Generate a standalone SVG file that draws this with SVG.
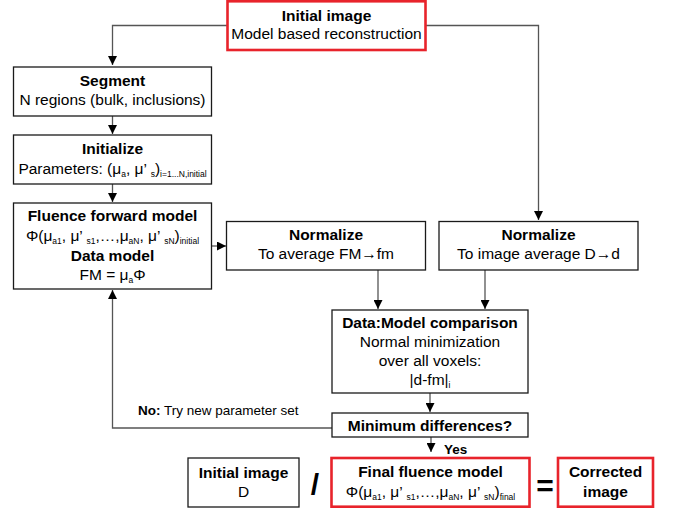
<svg xmlns="http://www.w3.org/2000/svg" width="673" height="508" viewBox="0 0 673 508">
<defs>
<marker id="ah" markerUnits="userSpaceOnUse" markerWidth="9" markerHeight="9" refX="9" refY="4.5" orient="auto"><path d="M0,0 L9,4.5 L0,9 z" fill="#000"/></marker>
<style>
.box{fill:#fff;stroke:#1a1a1a;stroke-width:1.3}
.red{fill:#fff;stroke:#e8232b;stroke-width:2.6}
.c{fill:none;stroke:#555;stroke-width:1.3}
text{font-family:"Liberation Sans",Arial,sans-serif;font-size:15.5px;fill:#000;text-anchor:middle}
.b{font-weight:bold;font-size:15.5px}
.s{font-size:8.5px}
</style>
</defs>
<rect width="673" height="508" fill="#fff"/>
<g id="connectors">
<path class="c" d="M227,25.5 H112.5 V65" marker-end="url(#ah)"/>
<path class="c" d="M425,25.5 H538.5 V220" marker-end="url(#ah)"/>
<path class="c" d="M112.5,116 V134" marker-end="url(#ah)"/>
<path class="c" d="M112.5,184 V202" marker-end="url(#ah)"/>
<path class="c" d="M212,246 H226" marker-end="url(#ah)"/>
<path class="c" d="M378,270 V309" marker-end="url(#ah)"/>
<path class="c" d="M485,270 V309" marker-end="url(#ah)"/>
<path class="c" d="M430,393 V412" marker-end="url(#ah)"/>
<path class="c" d="M431,437 V452" marker-end="url(#ah)"/>
<path class="c" d="M332,428 H112.5 V290" marker-end="url(#ah)"/>
<text x="444" y="454" class="b" style="font-size:13.5px;text-anchor:start">Yes</text>
<text x="138" y="415" style="font-size:13.5px;text-anchor:start"><tspan class="b" style="font-size:13.5px">No:</tspan> Try new parameter set</text>
</g>
<g id="initial">
<rect class="red" x="227.5" y="1.3" width="198" height="48.7"/>
<text x="326.5" y="21" class="b">Initial image</text>
<text x="326.5" y="39">Model based reconstruction</text>
</g>
<g id="segment">
<rect class="box" x="13.5" y="67" width="198" height="49"/>
<text x="112.5" y="86" class="b">Segment</text>
<text x="112.5" y="105">N regions (bulk, inclusions)</text>
</g>
<g id="initialize">
<rect class="box" x="13.5" y="135" width="198" height="49"/>
<text x="112.5" y="154" class="b">Initialize</text>
<text x="112.5" y="174">Parameters: (μ<tspan class="s" dy="3">a</tspan><tspan dy="-3">, μ’ </tspan><tspan class="s" dy="3">s</tspan><tspan dy="-3">)</tspan><tspan class="s" dy="3">i=1...N,initial</tspan></text>
</g>
<g id="fluence">
<rect class="box" x="13.5" y="203" width="198" height="86"/>
<text x="112.5" y="221" class="b">Fluence forward model</text>
<text x="112.5" y="241">Φ(μ<tspan class="s" dy="3">a1</tspan><tspan dy="-3">, μ’ </tspan><tspan class="s" dy="3">s1</tspan><tspan dy="-3">,…,μ</tspan><tspan class="s" dy="3">aN</tspan><tspan dy="-3">, μ’ </tspan><tspan class="s" dy="3">sN</tspan><tspan dy="-3">)</tspan><tspan class="s" dy="3">initial</tspan></text>
<text x="112.5" y="261" class="b">Data model</text>
<text x="112.5" y="280">FM = μ<tspan class="s" dy="3">a</tspan><tspan dy="-3">Φ</tspan></text>
</g>
<g id="normL">
<rect class="box" x="226.5" y="221.5" width="199" height="48.5"/>
<text x="326" y="240" class="b">Normalize</text>
<text x="326" y="259">To average FM→fm</text>
</g>
<g id="normR">
<rect class="box" x="439" y="221.5" width="199" height="48.5"/>
<text x="538.5" y="240" class="b">Normalize</text>
<text x="538.5" y="259">To image average D→d</text>
</g>
<g id="compare">
<rect class="box" x="332" y="310" width="196" height="83"/>
<text x="430" y="328" class="b">Data:Model comparison</text>
<text x="430" y="347">Normal minimization</text>
<text x="430" y="366">over all voxels:</text>
<text x="430" y="385">|d-fm|<tspan class="s" dy="3">i</tspan></text>
</g>
<g id="minimum">
<rect class="box" x="332" y="413" width="196" height="24"/>
<text x="430" y="430.5" class="b">Minimum differences?</text>
</g>
<g id="imageD">
<rect class="box" x="188" y="458" width="111" height="49"/>
<text x="243.5" y="478" class="b">Initial image</text>
<text x="243.5" y="497">D</text>
</g>
<text x="315" y="495" class="b" style="font-size:30px">/</text>
<g id="final">
<rect class="red" x="331.5" y="458" width="198" height="48.7"/>
<text x="430.5" y="477" class="b">Final fluence model</text>
<text x="430.5" y="497">Φ(μ<tspan class="s" dy="3">a1</tspan><tspan dy="-3">, μ’ </tspan><tspan class="s" dy="3">s1</tspan><tspan dy="-3">,…,μ</tspan><tspan class="s" dy="3">aN</tspan><tspan dy="-3">, μ’ </tspan><tspan class="s" dy="3">sN</tspan><tspan dy="-3">)</tspan><tspan class="s" dy="3">final</tspan></text>
</g>
<text x="545" y="496" class="b" style="font-size:30px">=</text>
<g id="corrected">
<rect class="red" x="558" y="458" width="95" height="48.7"/>
<text x="605.5" y="477" class="b">Corrected</text>
<text x="605.5" y="497" class="b">image</text>
</g>
</svg>
